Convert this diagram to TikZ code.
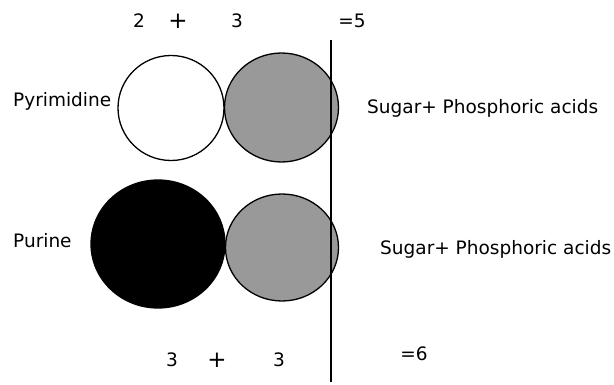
\documentclass[tikz,border=0pt]{standalone}
\usepackage{fontspec}
\setmainfont{DejaVu Sans}
\usetikzlibrary{shapes.geometric}
\definecolor{midgray}{HTML}{999999}
\begin{document}
\begin{tikzpicture}[x=1pt,y=-1pt,
  blob/.style={ellipse,draw=black,line width=1.3pt,inner sep=0pt},
  lbl/.style={font=\fontsize{18.5}{21}\selectfont,inner sep=0pt,anchor=center},
  plus/.style={font=\fontsize{23}{25}\selectfont,inner sep=0pt,anchor=center}]
\useasboundingbox (0,0) rectangle (614,385);
% circles
\node[blob,fill=white,minimum width=106pt,minimum height=105pt] (pyr) at (171,108) {};
\node[blob,fill=midgray,minimum width=114pt,minimum height=109pt] (sug1) at (281.5,107.5) {};
\node[blob,fill=black,minimum width=134pt,minimum height=128pt] (pur) at (158,244) {};
\node[blob,fill=midgray,minimum width=113pt,minimum height=107pt] (sug2) at (282,247.5) {};
% vertical line
\coordinate (vtop) at (331,40);
\coordinate (vbot) at (331,382);
\draw[line width=1.6pt] (vtop) -- (vbot);
% texts
\node[lbl] (t2) at (139,21) {2};
\node[plus] (tp1) at (178,21) {+};
\node[lbl] (t3a) at (237,21) {3};
\node[lbl] (eq5) at (352,21) {=5};
\node[lbl,anchor=west] (lpyr) at (13,101) {Pyrimidine};
\node[lbl,anchor=west] (lpur) at (13,241) {Purine};
\node[lbl,anchor=west] (s1) at (367,108) {Sugar+ Phosphoric acids};
\node[lbl,anchor=west] (s2) at (380,249) {Sugar+ Phosphoric acids};
\node[lbl] (t3b) at (172,360) {3};
\node[plus] (tp2) at (217,360) {+};
\node[lbl] (t3c) at (279,360) {3};
\node[lbl] (eq6) at (414,354) {=6};
\end{tikzpicture}
\end{document}
